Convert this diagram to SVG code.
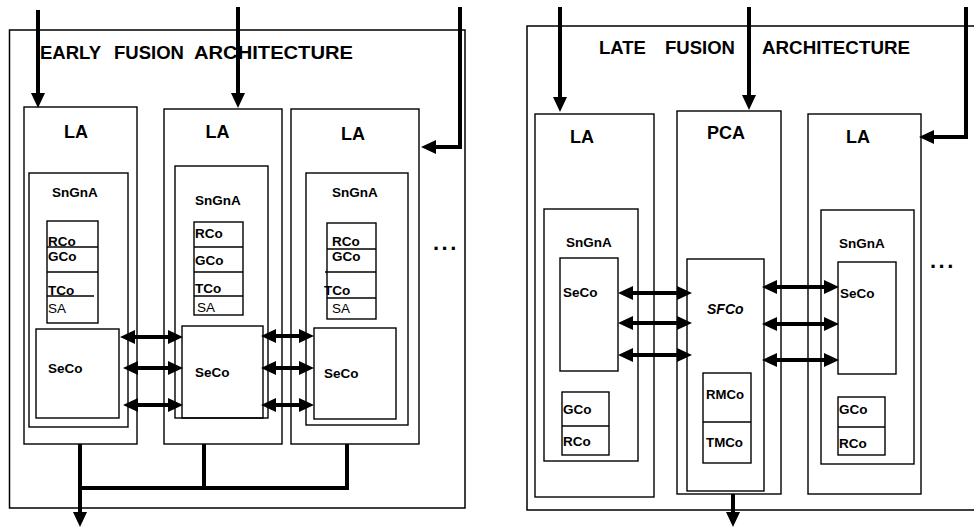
<svg xmlns="http://www.w3.org/2000/svg" width="974" height="529" viewBox="0 0 974 529">
<style>
.box{fill:none;stroke:#000;stroke-width:1.4}
.outer{fill:none;stroke:#000;stroke-width:1.5}
.thin{stroke:#000;stroke-width:1.4}
.wire{fill:none;stroke:#000;stroke-width:4;stroke-linejoin:miter}
.arr{fill:none;stroke:#000;stroke-width:4;marker-end:url(#ah)}
.dbl{fill:none;stroke:#000;stroke-width:4;marker-start:url(#ah);marker-end:url(#ah)}
text{font-family:"Liberation Sans",Arial,sans-serif;fill:#000}
.title{font-size:18.5px;font-weight:bold}
.big{font-size:18px;font-weight:bold}
.lbl{font-size:13.5px;font-weight:bold}
.sm{font-size:13px;font-weight:bold}
.reg{font-size:13.5px}
.it{font-size:14px;font-weight:bold;font-style:italic}
.dots{font-size:22px;font-weight:bold;letter-spacing:2.5px}
</style>
<defs>
<marker id="ah" markerUnits="userSpaceOnUse" markerWidth="15" markerHeight="14" viewBox="0 0 15 14" refX="7" refY="7" orient="auto-start-reverse">
<path d="M0,0 L15,7 L0,14 z" fill="#000"/>
</marker>
</defs>

<!-- ================= EARLY FUSION ================= -->
<g id="early-fusion">
<rect class="outer" x="9.5" y="30" width="455.5" height="478"/>
<text class="title" x="40" y="59">EARLY</text>
<text class="title" x="114" y="59">FUSION</text>
<text class="title" x="194" y="59" textLength="159" lengthAdjust="spacingAndGlyphs">ARCHITECTURE</text>
<text class="dots" x="433" y="250">...</text>
</g>

<g id="ef-la1">
<rect class="box" x="24" y="107" width="113" height="337"/>
<text class="big" x="64" y="137.5">LA</text>
</g>
<g id="ef-sngna1">
<rect class="box" x="29" y="173" width="99" height="254"/>
<text class="lbl" x="52" y="197">SnGnA</text>
</g>
<g id="ef-stack1">
<rect class="box" x="47" y="221" width="51" height="102"/>
<line class="thin" x1="47" y1="247" x2="98" y2="247"/>
<line class="thin" x1="47" y1="272" x2="98" y2="272"/>
<line class="thin" x1="47" y1="296" x2="94" y2="296"/>
<text class="lbl" x="48" y="246">RCo</text>
<text class="lbl" x="48" y="260.5">GCo</text>
<text class="lbl" x="48" y="295">TCo</text>
<text class="reg" x="48" y="313">SA</text>
</g>
<g id="ef-seco1">
<rect class="box" x="36" y="329" width="83" height="89"/>
<text class="lbl" x="48" y="373">SeCo</text>
</g>

<g id="ef-la2">
<rect class="box" x="164" y="109" width="118" height="335"/>
<text class="big" x="205.5" y="137.5">LA</text>
</g>
<g id="ef-sngna2">
<rect class="box" x="175" y="166" width="93" height="252"/>
<text class="lbl" x="195" y="205">SnGnA</text>
</g>
<g id="ef-stack2">
<rect class="box" x="194" y="222" width="49" height="93"/>
<line class="thin" x1="194" y1="247" x2="243" y2="247"/>
<line class="thin" x1="194" y1="272" x2="243" y2="272"/>
<line class="thin" x1="194" y1="296" x2="243" y2="296"/>
<text class="lbl" x="195" y="238">RCo</text>
<text class="lbl" x="195" y="265">GCo</text>
<text class="lbl" x="195" y="293">TCo</text>
<text class="reg" x="197" y="311.5">SA</text>
</g>
<g id="ef-seco2">
<rect class="box" x="182" y="326" width="81" height="92"/>
<text class="lbl" x="195" y="377">SeCo</text>
</g>

<g id="ef-la3">
<rect class="box" x="291" y="109" width="128" height="335"/>
<text class="big" x="341" y="139.5">LA</text>
</g>
<g id="ef-sngna3">
<rect class="box" x="306" y="173" width="102" height="252"/>
<text class="lbl" x="332" y="197">SnGnA</text>
</g>
<g id="ef-stack3">
<rect class="box" x="327" y="223" width="49" height="96"/>
<line class="thin" x1="327" y1="249" x2="376" y2="249"/>
<line class="thin" x1="325" y1="272" x2="376" y2="272"/>
<line class="thin" x1="327" y1="298" x2="376" y2="298"/>
<text class="lbl" x="332" y="246">RCo</text>
<text class="lbl" x="332" y="261">GCo</text>
<text class="lbl" x="324" y="295">TCo</text>
<text class="reg" x="332" y="313">SA</text>
</g>
<g id="ef-seco3">
<rect class="box" x="314" y="328" width="82" height="91"/>
<text class="lbl" x="324" y="378">SeCo</text>
</g>

<!-- ================= LATE FUSION ================= -->
<g id="late-fusion">
<rect class="outer" x="527" y="26" width="460" height="484"/>
<text class="title" x="599" y="54">LATE</text>
<text class="title" x="665" y="54">FUSION</text>
<text class="title" x="762" y="54" textLength="148" lengthAdjust="spacingAndGlyphs">ARCHITECTURE</text>
<text class="dots" x="930" y="268">...</text>
</g>

<g id="lf-la1">
<rect class="box" x="535" y="114" width="119" height="383"/>
<text class="big" x="570" y="143">LA</text>
</g>
<g id="lf-sngna1">
<rect class="box" x="544" y="209" width="94" height="252"/>
<text class="lbl" x="566" y="247">SnGnA</text>
</g>
<g id="lf-seco1">
<rect class="box" x="560" y="258" width="58" height="113"/>
<text class="lbl" x="563" y="297">SeCo</text>
</g>
<g id="lf-gr1">
<rect class="box" x="562" y="392" width="47" height="63"/>
<line class="thin" x1="562" y1="426" x2="609" y2="426"/>
<text class="lbl" x="563" y="414">GCo</text>
<text class="lbl" x="563" y="446">RCo</text>
</g>

<g id="lf-pca">
<rect class="box" x="677" y="111" width="104" height="383"/>
<text class="big" x="707" y="139">PCA</text>
</g>
<g id="lf-sfco">
<rect class="box" x="687" y="259" width="77" height="232"/>
<text class="it" x="707" y="314">SFCo</text>
</g>
<g id="lf-rmtm">
<rect class="box" x="703" y="373" width="48" height="90"/>
<line class="thin" x1="703" y1="422" x2="751" y2="422"/>
<text class="sm" x="706" y="399" textLength="38" lengthAdjust="spacingAndGlyphs">RMCo</text>
<text class="sm" x="706" y="447" textLength="37" lengthAdjust="spacingAndGlyphs">TMCo</text>
</g>

<g id="lf-la3">
<rect class="box" x="808" y="114" width="113" height="380"/>
<text class="big" x="846" y="143">LA</text>
</g>
<g id="lf-sngna3">
<rect class="box" x="821" y="210" width="93" height="254"/>
<text class="lbl" x="839" y="248">SnGnA</text>
</g>
<g id="lf-seco3">
<rect class="box" x="838" y="262" width="58" height="112"/>
<text class="lbl" x="840" y="298">SeCo</text>
</g>
<g id="lf-gr3">
<rect class="box" x="838" y="397" width="47" height="58"/>
<line class="thin" x1="838" y1="427" x2="885" y2="427"/>
<text class="lbl" x="839" y="414">GCo</text>
<text class="lbl" x="839" y="448">RCo</text>
</g>

<!-- ================= CONNECTORS ================= -->
<g id="connectors">
<!-- early fusion inputs -->
<line class="arr" x1="38" y1="10" x2="38" y2="100"/>
<line class="arr" x1="238" y1="7" x2="238" y2="100"/>
<polyline class="arr" points="460,7 460,147 429,147"/>
<!-- early fusion SeCo links -->
<line class="dbl" x1="128" y1="337" x2="175" y2="337"/>
<line class="dbl" x1="131" y1="368" x2="175" y2="368"/>
<line class="dbl" x1="131" y1="405" x2="175" y2="405"/>
<line class="dbl" x1="269" y1="336" x2="306" y2="336"/>
<line class="dbl" x1="269" y1="368" x2="306" y2="368"/>
<line class="dbl" x1="269" y1="405" x2="306" y2="405"/>
<!-- early fusion output -->
<polyline class="wire" points="204,444 204,488"/>
<polyline class="wire" points="347,444 347,488 80,488"/>
<line class="arr" x1="80" y1="444" x2="80" y2="519"/>

<!-- late fusion inputs -->
<line class="arr" x1="560" y1="7" x2="560" y2="104"/>
<line class="arr" x1="749" y1="7" x2="749" y2="102"/>
<polyline class="arr" points="966,7 966,137 927,137"/>
<!-- late fusion SeCo-SFCo links -->
<line class="dbl" x1="626" y1="293" x2="684" y2="293"/>
<line class="dbl" x1="626" y1="323" x2="684" y2="323"/>
<line class="dbl" x1="626" y1="355" x2="684" y2="355"/>
<line class="dbl" x1="770" y1="287" x2="831" y2="287"/>
<line class="dbl" x1="770" y1="324" x2="831" y2="324"/>
<line class="dbl" x1="770" y1="360" x2="831" y2="360"/>
<!-- late fusion output -->
<line class="arr" x1="733" y1="494" x2="733" y2="519"/>
</g>
</svg>
